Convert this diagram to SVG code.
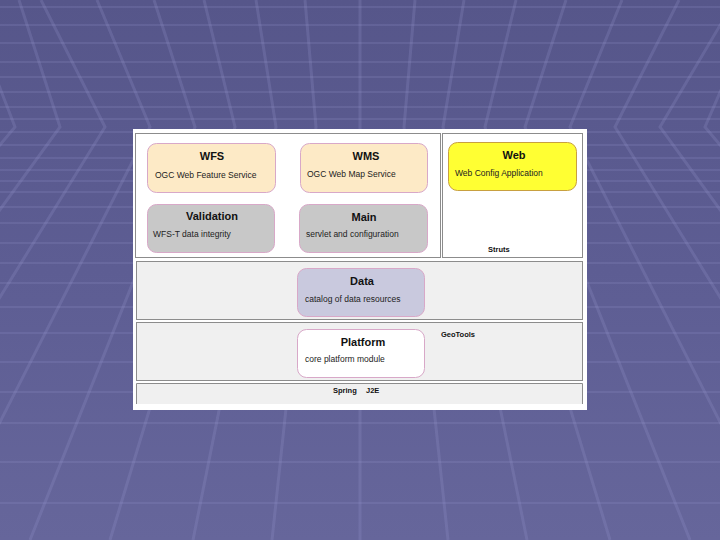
<svg xmlns="http://www.w3.org/2000/svg" width="720" height="540" viewBox="0 0 720 540">
<defs>
<linearGradient id="bg" x1="0" y1="0" x2="0" y2="1">
<stop offset="0" stop-color="#56568a"/>
<stop offset="0.5" stop-color="#5d5d93"/>
<stop offset="1" stop-color="#66669b"/>
</linearGradient>
<style>
.grid line{stroke:#9a9ad0;stroke-opacity:0.18;stroke-width:2}
.grid polyline{fill:none;stroke:#9a9ad0;stroke-opacity:0.22;stroke-width:3}
.band{fill:#f0f0f0;stroke:#8c8c8c;stroke-width:1}
.cont{fill:#ffffff;stroke:#8c8c8c;stroke-width:1}
.node{stroke:#d8a8c8;stroke-width:1}
.t{font-family:"Liberation Sans",Arial,sans-serif;font-weight:bold;font-size:11px;fill:#111;text-anchor:middle}
.s{font-family:"Liberation Sans",Arial,sans-serif;font-size:8.5px;fill:#222}
.l{font-family:"Liberation Sans",Arial,sans-serif;font-weight:bold;font-size:7.5px;fill:#111}
</style>
</defs>
<rect width="720" height="540" fill="url(#bg)"/>
<g class="grid">
<line x1="0" y1="7" x2="720" y2="7"/>
<line x1="0" y1="25" x2="720" y2="25"/>
<line x1="0" y1="43" x2="720" y2="43"/>
<line x1="0" y1="62" x2="720" y2="62"/>
<line x1="0" y1="77" x2="720" y2="77"/>
<line x1="0" y1="92" x2="720" y2="92"/>
<line x1="0" y1="107" x2="720" y2="107"/>
<line x1="0" y1="119" x2="720" y2="119"/>
<line x1="0" y1="132" x2="720" y2="132"/>
<line x1="0" y1="145" x2="720" y2="145"/>
<line x1="0" y1="158" x2="720" y2="158"/>
<line x1="0" y1="170" x2="720" y2="170"/>
<line x1="0" y1="181" x2="720" y2="181"/>
<line x1="0" y1="192" x2="720" y2="192"/>
<line x1="0" y1="207" x2="720" y2="207"/>
<line x1="0" y1="223" x2="720" y2="223"/>
<line x1="0" y1="243" x2="720" y2="243"/>
<line x1="0" y1="263" x2="720" y2="263"/>
<line x1="0" y1="283" x2="720" y2="283"/>
<line x1="0" y1="307" x2="720" y2="307"/>
<line x1="0" y1="333" x2="720" y2="333"/>
<line x1="0" y1="362" x2="720" y2="362"/>
<line x1="0" y1="392" x2="720" y2="392"/>
<line x1="0" y1="423" x2="720" y2="423"/>
<line x1="0" y1="462" x2="720" y2="462"/>
<line x1="0" y1="503" x2="720" y2="503"/>
<polyline points="-34,0 15,127 -330,540"/>
<polyline points="19,0 60,127 -240,540"/>
<polyline points="41,0 105,127 -150,540"/>
<polyline points="97,0 150,127 -60,540"/>
<polyline points="154,0 195,127 30,540"/>
<polyline points="204,0 235,127 110,540"/>
<polyline points="256,0 276,127 193,540"/>
<polyline points="305,0 316,127 272,540"/>
<polyline points="360,0 360,127 360,540"/>
<polyline points="415,0 404,127 448,540"/>
<polyline points="464,0 443,127 527,540"/>
<polyline points="516,0 485,127 610,540"/>
<polyline points="566,0 525,127 690,540"/>
<polyline points="622,0 570,127 780,540"/>
<polyline points="679,0 615,127 870,540"/>
<polyline points="735,0 660,127 960,540"/>
<polyline points="760,0 705,127 1050,540"/>
</g>
<rect x="133" y="129" width="454" height="281" fill="#ffffff"/>
<g id="core-container"><rect class="cont" x="135.5" y="133.5" width="305" height="124"/></g>
<g id="struts"><rect class="cont" x="442.5" y="133.5" width="140" height="124"/><text class="l" x="488" y="252">Struts</text></g>
<g id="data-band"><rect class="band" x="136.5" y="261.5" width="446" height="58"/></g>
<g id="geotools"><rect class="band" x="136.5" y="322.5" width="446" height="58"/><text class="l" x="441" y="337">GeoTools</text></g>
<g id="spring"><rect x="137" y="384" width="445" height="20" fill="#f0f0f0"/><path d="M136.5,404 V383.5 H582.5 V404" fill="none" stroke="#8c8c8c"/><text class="l" x="333" y="393">Spring</text><text class="l" x="366" y="393">J2E</text></g>
<g id="wfs"><rect class="node" x="147.5" y="143.5" width="128" height="49" rx="9" fill="#fdeac6"/><text class="t" x="212" y="160">WFS</text><text class="s" x="155" y="178">OGC Web Feature Service</text></g>
<g id="wms"><rect class="node" x="300.5" y="143.5" width="127" height="49" rx="9" fill="#fdeac6"/><text class="t" x="366" y="160">WMS</text><text class="s" x="307" y="177">OGC Web Map Service</text></g>
<g id="web"><rect x="448.5" y="142.5" width="128" height="48" rx="9" fill="#ffff33" stroke="#c8a040"/><text class="t" x="514" y="159">Web</text><text class="s" x="455" y="176">Web Config Application</text></g>
<g id="validation"><rect class="node" x="147.5" y="204.5" width="127" height="48" rx="9" fill="#c8c8c8"/><text class="t" x="212" y="220">Validation</text><text class="s" x="153" y="237">WFS-T data integrity</text></g>
<g id="main"><rect class="node" x="299.5" y="204.5" width="128" height="48" rx="9" fill="#c8c8c8"/><text class="t" x="364" y="221">Main</text><text class="s" x="306" y="237">servlet and configuration</text></g>
<g id="data"><rect class="node" x="297.5" y="268.5" width="127" height="48" rx="9" fill="#c9c9de"/><text class="t" x="362" y="285">Data</text><text class="s" x="305" y="302">catalog of data resources</text></g>
<g id="platform"><rect class="node" x="297.5" y="329.5" width="127" height="48" rx="9" fill="#ffffff"/><text class="t" x="363" y="346">Platform</text><text class="s" x="305" y="362">core platform module</text></g>
<g id="connectors"></g>
</svg>
